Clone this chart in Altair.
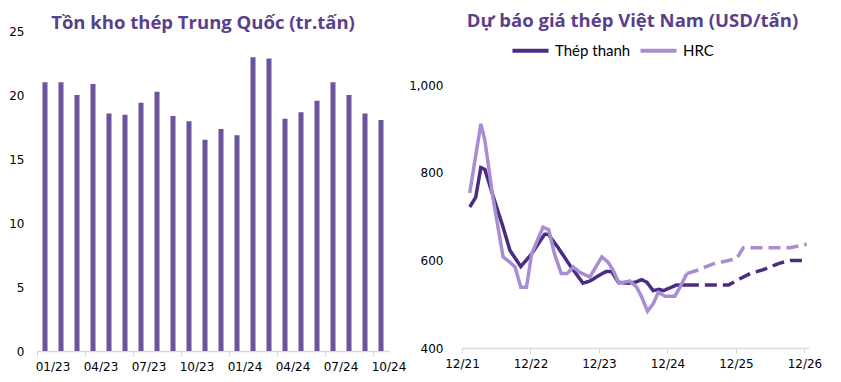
import altair as alt
import pandas as pd

# ---------------- left chart data ----------------
inv_months = ["01/23", "02/23", "03/23", "04/23", "05/23", "06/23", "07/23", "08/23",
              "09/23", "10/23", "11/23", "12/23", "01/24", "02/24", "03/24", "04/24",
              "05/24", "06/24", "07/24", "08/24", "09/24", "10/24"]
inv_values = [21.0, 21.0, 20.0, 20.85, 18.55, 18.45, 19.4, 20.25, 18.35, 17.95, 16.5,
              17.35, 16.85, 22.95, 22.85, 18.15, 18.65, 19.55, 21.0, 20.0, 18.55, 18.05]
inv_label_months = ["01/23", "04/23", "07/23", "10/23", "01/24", "04/24", "07/24", "10/24"]

# ---------------- right chart data (months after 12/2021) ----------------
rebar_m = [1.35, 2.4, 3.3, 4.0, 5.4, 7.2, 8.4, 10.3, 12.2, 14.5, 15.1, 16.8, 18.9, 21.2,
           22.4, 24.2, 25.3, 26.2, 27.4, 29.1, 30.3, 31.5, 32.4, 33.5, 34.4, 35.3, 36.4,
           37.6, 39.4]
rebar_v = [722, 744, 812, 808, 749, 676, 623, 586, 615, 660, 660, 630, 589, 548,
           553, 567, 575, 575, 550, 548, 550, 556, 550, 531, 534, 531, 537,
           544, 544]
rebar_fc_m = [39.4, 46.7, 48.7, 50.5, 52.8, 55.7, 57.5, 60.6]
rebar_fc_v = [544, 544, 558, 570, 579, 594, 600, 600]

hrc_m = [1.35, 3.3, 4.0, 5.4, 7.2, 8.4, 9.3, 10.3, 11.3, 12.2, 14.2, 15.2, 16.2, 17.4,
         18.4, 19.5, 20.6, 22.4, 24.5, 25.6, 26.5, 27.5, 29.4, 30.6, 31.5, 32.5, 33.5,
         34.4, 35.6, 37.3, 38.2, 39.4]
hrc_v = [754, 912, 875, 745, 608, 596, 585, 539, 539, 615, 676, 670, 615, 570,
         570, 585, 573, 562, 608, 596, 577, 548, 553, 539, 516, 484, 501,
         527, 518, 518, 539, 570]
hrc_fc_m = [39.4, 41.1, 44.0, 48.1, 49.3, 57.5, 60.4]
hrc_fc_v = [570, 577, 592, 604, 629, 629, 637]

year_ticks = [0, 12, 24, 36, 48, 60]

TITLE_COLOR = "#5b3f8c"
TITLE_FONT = "Open Sans"
BAR_COLOR = "#6b5499"
DARK = "#4b2c84"
LIGHT = "#a98dd2"
AXIS_GRAY = "#d9d9d9"
TICK_FONT = "DejaVu Sans"

inv_df = pd.DataFrame({"month": inv_months, "value": inv_values})

rows = []
for s, kind, ms, vs in [("Thép thanh", "actual", rebar_m, rebar_v),
                        ("Thép thanh", "forecast", rebar_fc_m, rebar_fc_v),
                        ("HRC", "actual", hrc_m, hrc_v),
                        ("HRC", "forecast", hrc_fc_m, hrc_fc_v)]:
    for m, v in zip(ms, vs):
        rows.append({"m": m, "value": v, "series": s, "kind": kind})
price_df = pd.DataFrame(rows)

left = alt.Chart(inv_df).mark_bar(width=5, color=BAR_COLOR).encode(
    x=alt.X("month:N", sort=inv_months, title=None,
            scale=alt.Scale(paddingInner=0, paddingOuter=0),
            axis=alt.Axis(values=inv_label_months, labelAngle=0, bandPosition=0,
                          labelOffset=8, tickSize=5, tickColor=AXIS_GRAY,
                          domainColor=AXIS_GRAY, domainWidth=1.5, tickWidth=1,
                          labelFont=TICK_FONT, labelFontSize=12, labelColor="#000",
                          labelPadding=5, grid=False)),
    y=alt.Y("value:Q", title=None,
            scale=alt.Scale(domain=[0, 25]),
            axis=alt.Axis(values=[0, 5, 10, 15, 20, 25], domain=False, ticks=False,
                          grid=False, labelFont=TICK_FONT, labelFontSize=12,
                          labelColor="#000", labelPadding=13)),
).properties(
    width=352, height=320,
    title=alt.TitleParams("Tồn kho thép Trung Quốc (tr.tấn)", font=TITLE_FONT,
                          fontSize=18.5, fontWeight="bold", color=TITLE_COLOR,
                          anchor="middle", offset=-7, dx=-10),
)

right = alt.Chart(price_df).mark_line(strokeWidth=3.5).encode(
    x=alt.X("m:Q", title=None,
            scale=alt.Scale(domain=[0, 60.8], nice=False, zero=False),
            axis=alt.Axis(values=year_ticks,
                          labelExpr="'12/' + (21 + datum.value / 12)",
                          tickSize=5, tickColor=AXIS_GRAY, domainColor=AXIS_GRAY,
                          domainWidth=1.5, labelFont=TICK_FONT, labelFontSize=12,
                          labelColor="#000", labelPadding=5, grid=False,
                          labelFlush=False)),
    y=alt.Y("value:Q", title=None,
            scale=alt.Scale(domain=[400, 1124], nice=False),
            axis=alt.Axis(values=[400, 600, 800, 1000], format=",.0f", domain=False,
                          ticks=False, grid=False, labelFont=TICK_FONT,
                          labelFontSize=12, labelColor="#000", labelPadding=19)),
    color=alt.Color("series:N", sort=["Thép thanh", "HRC"],
                    scale=alt.Scale(domain=["Thép thanh", "HRC"], range=[DARK, LIGHT]),
                    legend=alt.Legend(title=None, orient="none", legendX=48, legendY=-1,
                                      direction="horizontal",
                                      symbolType="stroke", symbolSize=1300,
                                      symbolStrokeWidth=4, labelFont="Lato",
                                      labelFontSize=15, labelColor="#000",
                                      columnPadding=1)),
    strokeDash=alt.StrokeDash("kind:N",
                              scale=alt.Scale(domain=["actual", "forecast"],
                                              range=[[1, 0], [12, 6]]),
                              legend=None),
    detail="kind:N",
).properties(
    width=347, height=317,
    title=alt.TitleParams("Dự báo giá thép Việt Nam (USD/tấn)", font=TITLE_FONT,
                          fontSize=18.5, fontWeight="bold", color=TITLE_COLOR,
                          anchor="middle", offset=0, dx=-3),
)

chart = alt.hconcat(left, right, spacing=2).resolve_legend(
    color="independent", strokeDash="independent"
).resolve_scale(color="independent", strokeDash="independent").properties(
    padding={"left": 0, "top": 3, "right": 0, "bottom": 0}
).configure_view(stroke=None)

chart.save("out.html", embed_options={"renderer": "svg", "actions": False})
